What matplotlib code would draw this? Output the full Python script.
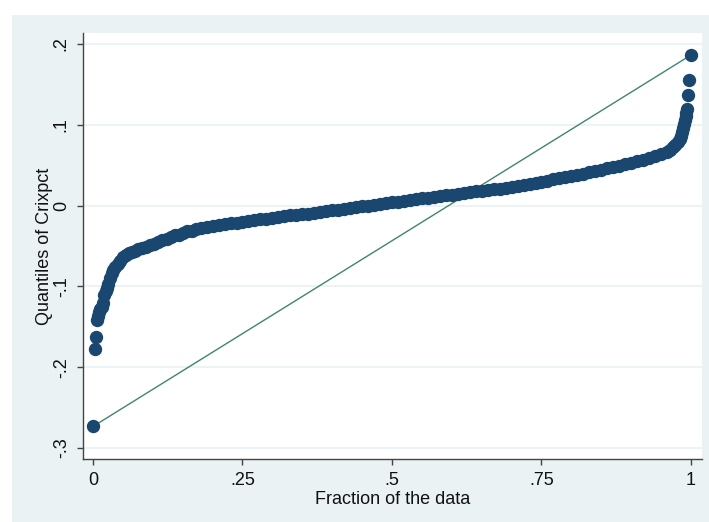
import matplotlib
matplotlib.use("Agg")
import matplotlib.pyplot as plt
from matplotlib.patches import Rectangle

plt.rcParams['font.family'] = ['Liberation Sans', 'DejaVu Sans']

# Fraction of the data (x) and quantiles of Crixpct (y)
fraction = [
    0.0008, 0.003, 0.005, 0.0065, 0.008, 0.010, 0.0125, 0.015, 0.017, 0.019,
    0.021, 0.023, 0.025, 0.028, 0.031, 0.034, 0.037, 0.041, 0.045, 0.050,
    0.055, 0.060, 0.065, 0.070, 0.076, 0.082, 0.088, 0.095, 0.102, 0.109,
    0.116, 0.123, 0.130, 0.137, 0.144, 0.151, 0.158, 0.165, 0.172, 0.18,
    0.19, 0.20, 0.21, 0.22, 0.23, 0.24, 0.25, 0.26, 0.27, 0.28,
    0.29, 0.30, 0.31, 0.32, 0.33, 0.34, 0.35, 0.36, 0.37, 0.38,
    0.39, 0.40, 0.41, 0.42, 0.43, 0.44, 0.45, 0.46, 0.47, 0.48,
    0.49, 0.50, 0.51, 0.52, 0.53, 0.54, 0.55, 0.56, 0.57, 0.58,
    0.59, 0.60, 0.61, 0.62, 0.63, 0.64, 0.65, 0.66, 0.67, 0.68,
    0.69, 0.70, 0.71, 0.72, 0.73, 0.74, 0.75, 0.76, 0.77, 0.78,
    0.79, 0.80, 0.81, 0.82, 0.83, 0.84, 0.85, 0.86, 0.87, 0.88,
    0.89, 0.90, 0.91, 0.92, 0.93, 0.94, 0.95, 0.96, 0.965, 0.970,
    0.974, 0.978, 0.981, 0.983, 0.985, 0.987, 0.989, 0.990, 0.991, 0.992,
    0.993, 0.9955, 0.9967, 0.9992,
]
quantile = [
    -0.273, -0.177, -0.163, -0.142, -0.137, -0.132, -0.128, -0.125, -0.120, -0.111,
    -0.106, -0.102, -0.097, -0.089, -0.084, -0.080, -0.076, -0.072, -0.068, -0.064,
    -0.061, -0.059, -0.057, -0.056, -0.054, -0.053, -0.051, -0.049, -0.047, -0.045,
    -0.043, -0.041, -0.039, -0.037, -0.036, -0.034, -0.032, -0.031, -0.029, -0.028,
    -0.026, -0.025, -0.024, -0.023, -0.022, -0.021, -0.020, -0.019, -0.018, -0.017,
    -0.016, -0.015, -0.014, -0.013, -0.012, -0.0115, -0.0105, -0.0098, -0.009, -0.008,
    -0.007, -0.006, -0.005, -0.004, -0.003, -0.002, -0.001, 0.000, 0.001, 0.002,
    0.003, 0.004, 0.005, 0.006, 0.007, 0.008, 0.009, 0.0095, 0.0105, 0.0115,
    0.0125, 0.0135, 0.0145, 0.0155, 0.0165, 0.0175, 0.0185, 0.0195, 0.020, 0.021,
    0.022, 0.023, 0.024, 0.0255, 0.0265, 0.028, 0.029, 0.031, 0.0325, 0.034,
    0.0355, 0.037, 0.038, 0.039, 0.041, 0.043, 0.044, 0.046, 0.0475, 0.049,
    0.051, 0.053, 0.055, 0.057, 0.059, 0.0615, 0.064, 0.0665, 0.069, 0.072,
    0.075, 0.079, 0.082, 0.086, 0.091, 0.096, 0.101, 0.106, 0.111, 0.115,
    0.119, 0.137, 0.155, 0.186,
]

y_ticks = [-0.3, -0.2, -0.1, 0.0, 0.1, 0.2]
y_tick_labels = ["-.3", "-.2", "-.1", "0", ".1", ".2"]
x_ticks = [0, 0.25, 0.5, 0.75, 1]
x_tick_labels = ["0", ".25", ".5", ".75", "1"]

W, H = 709, 522
fig = plt.figure(figsize=(W / 100, H / 100), dpi=100, facecolor="white")
fig.patches.append(Rectangle((12 / W, 0), 1 - 12 / W, 1 - 15 / H,
                             transform=fig.transFigure, facecolor="#EAF2F3",
                             edgecolor="none", zorder=-10))

ax = fig.add_axes([83 / W, (H - 459) / H, (702 - 83) / W, (459 - 33) / H])
ax.set_zorder(5)
ax.set_facecolor("white")

ax.set_xlim(-0.0167, 1.0184)
ax.set_ylim(-0.3136, 0.2136)

for yt in y_ticks:
    ax.axhline(yt, color="#EAF2F3", lw=1.3, zorder=1)

# reference line from first to last point
ax.plot([fraction[0], fraction[-1]], [quantile[0], quantile[-1]],
        color="#3F8570", lw=1.0, zorder=2)
ax.plot(fraction, quantile, linestyle="none", marker="o", markersize=8.6,
        markerfacecolor="#1A476F", markeredgecolor="#1A476F", zorder=3)

ax.set_yticks(y_ticks)
ax.set_yticklabels(y_tick_labels, rotation=90, va="center")
ax.set_xticks(x_ticks)
ax.set_xticklabels(x_tick_labels)

for s in ["top", "right"]:
    ax.spines[s].set_visible(False)
for s in ["left", "bottom"]:
    ax.spines[s].set_color("#444444")
    ax.spines[s].set_linewidth(1.0)

ax.tick_params(axis="both", direction="out", length=4.5, width=1.0,
               color="#444444", labelsize=13, labelcolor="#111111", pad=5)

ax.set_xlabel("Fraction of the data", fontsize=13, color="#111111", labelpad=1)
ax.set_ylabel("Quantiles of Crixpct", fontsize=13, color="#111111", labelpad=0)

fig.savefig("out.png", dpi=100, facecolor="white")
